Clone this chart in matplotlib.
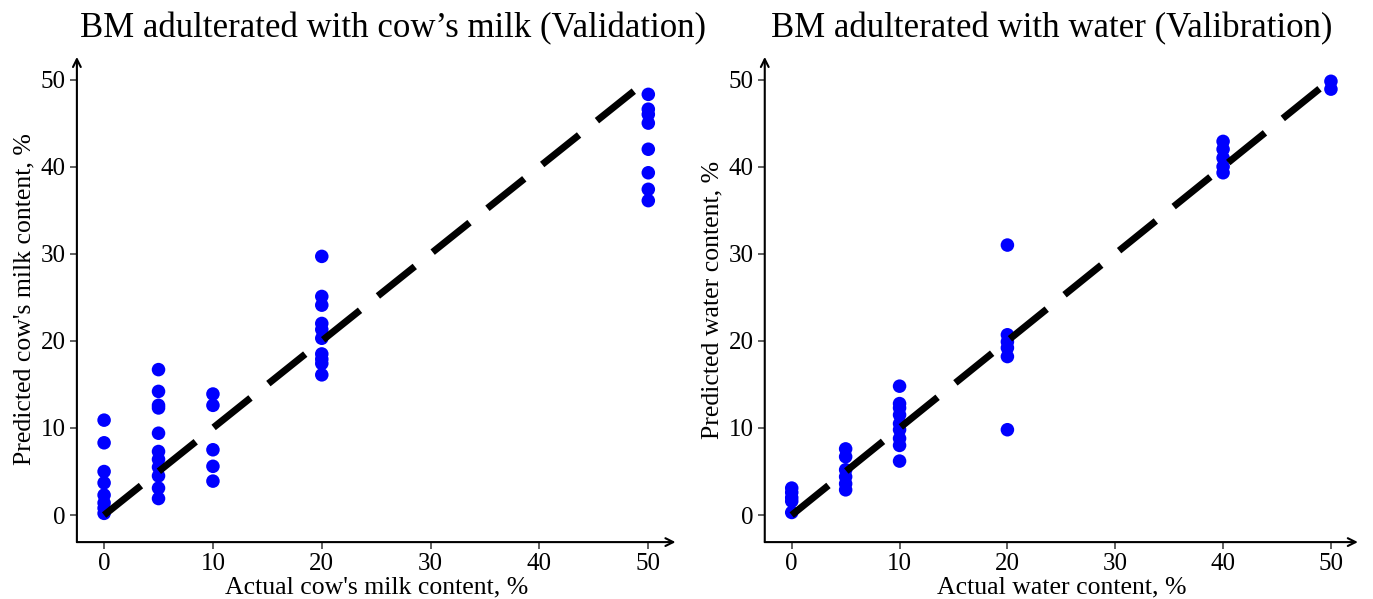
import matplotlib
matplotlib.use("Agg")
import matplotlib.pyplot as plt

plt.rcParams['font.family'] = ['Liberation Serif', 'DejaVu Serif']

# Left panel: cow's milk (validation)
cow_actual = [0]*8 + [5]*11 + [10]*5 + [20]*10 + [50]*8
cow_pred = [10.9, 8.3, 5.0, 3.7, 2.3, 1.4, 0.8, 0.2,
            16.7, 14.2, 12.6, 12.3, 9.4, 7.3, 6.4, 5.5, 4.5, 3.1, 1.9,
            13.9, 12.6, 7.5, 5.6, 3.9,
            29.7, 25.1, 24.1, 22.0, 21.3, 20.3, 18.5, 17.9, 17.4, 16.1,
            48.3, 46.6, 46.0, 45.0, 42.0, 39.3, 37.4, 36.1]

# Right panel: water (calibration)
water_actual = [0]*5 + [5]*6 + [10]*9 + [20]*6 + [40]*5 + [50]*2
water_pred = [3.1, 2.6, 2.0, 1.6, 0.3,
              7.6, 6.7, 5.2, 4.4, 3.6, 2.9,
              14.8, 12.8, 12.3, 11.5, 10.5, 9.8, 8.8, 8.0, 6.2,
              31.0, 20.7, 19.9, 19.2, 18.2, 9.8,
              42.9, 42.0, 41.0, 40.0, 39.3,
              49.8, 48.9]

line_x = [0, 50]
line_y = [0, 50]

titles = ["BM adulterated with cow\u2019s milk (Validation)",
          "BM adulterated with water (Valibration)"]
xlabels = ["Actual cow's milk content, %", "Actual water content, %"]
ylabels = ["Predicted cow's milk content, %", "Predicted water content, %"]
ticks = [0, 10, 20, 30, 40, 50]
title_x = [0.528, 0.484]

fig = plt.figure(figsize=(13.73, 5.99), dpi=100)
ax1 = fig.add_axes([0.056, 0.095, 0.436, 0.81])
ax2 = fig.add_axes([0.557, 0.095, 0.432, 0.81])

datasets = [(cow_actual, cow_pred), (water_actual, water_pred)]
for ax, (xa, yp), t, xl, yl, tx in zip([ax1, ax2], datasets, titles, xlabels, ylabels, title_x):
    ax.plot(line_x, line_y, color='black', lw=5, linestyle=(0, (6.8, 3.3)),
            dash_capstyle='butt', zorder=3)
    ax.scatter(xa, yp, s=95, color='#0000FF', edgecolors='none', zorder=2)
    ax.set_xlim(-2.5, 52.5)
    ax.set_ylim(-3.1, 52.6)
    ax.set_xticks(ticks)
    ax.set_yticks(ticks)
    for s in ax.spines.values():
        s.set_visible(False)
    ax.tick_params(axis='both', direction='out', length=5, width=1.2,
                   color='#444444', labelsize=18, labelcolor='black', pad=3)
    ax.annotate('', xy=(1.0, 0), xytext=(0, 0), xycoords='axes fraction',
                arrowprops=dict(arrowstyle='->', lw=1.5, color='black',
                                mutation_scale=14, shrinkA=0, shrinkB=0))
    ax.annotate('', xy=(0, 1.0), xytext=(0, 0), xycoords='axes fraction',
                arrowprops=dict(arrowstyle='->', lw=1.5, color='black',
                                mutation_scale=14, shrinkA=0, shrinkB=0))
    ax.set_title(t, fontsize=25, pad=14, x=tx)
    ax.set_xlabel(xl, fontsize=18.5, labelpad=1)
    ax.set_ylabel(yl, fontsize=18.5, labelpad=4)

fig.savefig("out.png", dpi=100)
